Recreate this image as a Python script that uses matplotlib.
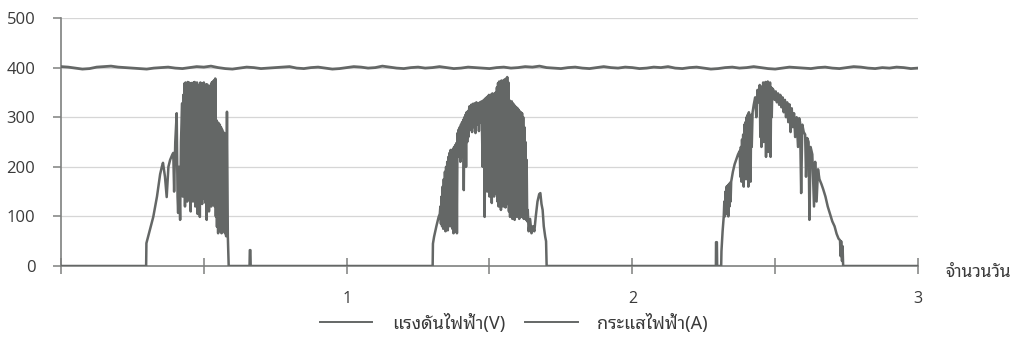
import matplotlib
matplotlib.use("Agg")
import matplotlib.pyplot as plt
from matplotlib import font_manager

# ---------------- data ----------------
volt_x = [i / 40 for i in range(121)]
volt_y = [402, 401, 399, 397, 398, 401, 402, 403, 401, 400,
          399, 398, 397, 399, 400, 401, 399, 398, 400, 402,
          401, 403, 400, 398, 397, 399, 401, 400, 398, 399,
          400, 401, 402, 399, 398, 400, 401, 399, 397, 398,
          400, 402, 401, 399, 400, 403, 401, 399, 398, 400,
          401, 399, 400, 402, 400, 398, 399, 401, 400, 399,
          398, 400, 401, 399, 400, 402, 401, 403, 400, 399,
          398, 400, 401, 399, 398, 400, 402, 400, 399, 401,
          400, 398, 399, 401, 400, 402, 399, 398, 400, 401,
          399, 397, 398, 400, 401, 399, 400, 402, 400, 398,
          397, 399, 401, 400, 399, 398, 400, 401, 399, 398,
          400, 402, 401, 399, 398, 400, 399, 401, 400, 398, 399]

# current: (day, value) pairs
day1_pts = [(0.000, 0), (0.298, 0), (0.299, 46), (0.312, 75), (0.323, 99), (0.336, 140),
            (0.347, 185), (0.353, 200), (0.357, 208), (0.364, 180), (0.370, 139),
            (0.376, 200), (0.382, 214), (0.390, 225), (0.393, 228), (0.396, 150),
            (0.400, 250), (0.405, 308), (0.408, 140), (0.410, 107), (0.413, 200),
            (0.417, 93), (0.420, 250), (0.424, 328),
            (0.426, 140), (0.428, 345), (0.430, 150), (0.432, 368), (0.434, 120),
            (0.436, 370), (0.438, 160), (0.440, 368), (0.442, 130), (0.444, 371),
            (0.446, 150), (0.448, 370), (0.450, 139), (0.452, 365), (0.454, 110),
            (0.456, 369), (0.458, 150), (0.460, 368), (0.462, 130), (0.464, 370),
            (0.466, 160), (0.468, 371), (0.470, 120), (0.472, 366), (0.474, 145),
            (0.476, 370), (0.478, 105), (0.480, 365), (0.482, 140), (0.484, 365),
            (0.486, 99), (0.488, 370), (0.490, 150), (0.492, 362), (0.494, 125),
            (0.496, 368), (0.498, 140), (0.500, 370), (0.502, 135), (0.504, 365),
            (0.506, 127), (0.508, 366), (0.510, 93), (0.512, 366), (0.514, 145),
            (0.516, 362), (0.518, 110), (0.520, 360), (0.522, 140), (0.524, 365),
            (0.526, 120), (0.528, 370), (0.530, 130), (0.532, 372), (0.534, 140),
            (0.536, 375), (0.538, 120), (0.540, 378),
            (0.542, 100), (0.544, 294), (0.546, 79), (0.548, 290), (0.550, 66),
            (0.552, 288), (0.554, 75), (0.556, 285), (0.558, 70), (0.560, 280),
            (0.562, 66), (0.564, 275), (0.566, 79), (0.568, 270), (0.570, 70),
            (0.572, 268), (0.574, 66), (0.576, 200), (0.578, 60), (0.581, 311),
            (0.584, 60), (0.587, 0),
            (0.660, 0), (0.661, 32), (0.663, 32), (0.664, 0)]

day2_pts = [(1.300, 0), (1.301, 0), (1.302, 45), (1.306, 59), (1.314, 80), (1.322, 99),
            (1.326, 105),
            (1.328, 120), (1.330, 85), (1.332, 140), (1.334, 80), (1.336, 160),
            (1.338, 75), (1.340, 175), (1.342, 90), (1.344, 190), (1.346, 70),
            (1.348, 200), (1.350, 85), (1.352, 210), (1.354, 72), (1.356, 220),
            (1.358, 95), (1.360, 228), (1.362, 80), (1.364, 234), (1.366, 100),
            (1.368, 230), (1.370, 75), (1.372, 236), (1.374, 66), (1.376, 240),
            (1.378, 90), (1.380, 244), (1.382, 70), (1.384, 248), (1.386, 66),
            (1.388, 268), (1.390, 220), (1.392, 275), (1.394, 230), (1.396, 280),
            (1.398, 210), (1.400, 285), (1.402, 235), (1.404, 290), (1.406, 220),
            (1.408, 295), (1.410, 153), (1.412, 300), (1.414, 240), (1.416, 305),
            (1.418, 200), (1.420, 310), (1.422, 250), (1.424, 312), (1.426, 260),
            (1.428, 314),
            (1.430, 322), (1.433, 275), (1.436, 325), (1.439, 270), (1.442, 327),
            (1.445, 280), (1.448, 328), (1.451, 268), (1.454, 330), (1.457, 285),
            (1.460, 328), (1.463, 272), (1.466, 330), (1.469, 290), (1.472, 332),
            (1.476, 200), (1.480, 335), (1.483, 99), (1.486, 338),
            (1.488, 180), (1.490, 340), (1.492, 150), (1.494, 342), (1.496, 190),
            (1.498, 345), (1.500, 140), (1.502, 344), (1.504, 170), (1.506, 346),
            (1.508, 127), (1.510, 348), (1.512, 160), (1.514, 345), (1.516, 140),
            (1.518, 348), (1.520, 180), (1.522, 350), (1.524, 145), (1.526, 360),
            (1.528, 130), (1.530, 369), (1.532, 120), (1.534, 372), (1.536, 140),
            (1.538, 370), (1.540, 113), (1.542, 374), (1.544, 135), (1.546, 372),
            (1.548, 120), (1.550, 375), (1.552, 140), (1.554, 376), (1.556, 118),
            (1.558, 378), (1.560, 130), (1.562, 381), (1.564, 125), (1.566, 370),
            (1.568, 110), (1.570, 334), (1.572, 99), (1.574, 330), (1.576, 130),
            (1.578, 332), (1.580, 95), (1.582, 328), (1.584, 120), (1.586, 325),
            (1.588, 93), (1.590, 322), (1.592, 140), (1.594, 320), (1.596, 99),
            (1.598, 318), (1.600, 110), (1.602, 315), (1.604, 95), (1.606, 312),
            (1.608, 130), (1.610, 310), (1.612, 99), (1.614, 308), (1.616, 120),
            (1.618, 300), (1.620, 95), (1.622, 280), (1.624, 110), (1.626, 250),
            (1.628, 93), (1.630, 214), (1.632, 90), (1.634, 113),
            (1.637, 70), (1.642, 95), (1.647, 66), (1.652, 80), (1.657, 70),
            (1.662, 100), (1.668, 130), (1.674, 145), (1.678, 147), (1.682, 125),
            (1.686, 113), (1.690, 80), (1.695, 59), (1.698, 50), (1.700, 0)]

day3_pts = [(2.290, 0), (2.2925, 0), (2.293, 48), (2.296, 48), (2.297, 0), (2.311, 0),
            (2.312, 30), (2.316, 70), (2.320, 100), (2.322, 130), (2.324, 100),
            (2.326, 150), (2.328, 105), (2.330, 160), (2.332, 110), (2.334, 162),
            (2.336, 100), (2.338, 165), (2.340, 120), (2.342, 168), (2.344, 130),
            (2.346, 170), (2.352, 190), (2.358, 205), (2.364, 215), (2.370, 225),
            (2.376, 232), (2.378, 180), (2.380, 240), (2.382, 170), (2.384, 255),
            (2.386, 190), (2.388, 265), (2.390, 160), (2.392, 285), (2.394, 200),
            (2.396, 290), (2.398, 175), (2.400, 300), (2.402, 220), (2.404, 305),
            (2.406, 160), (2.408, 310), (2.410, 200), (2.412, 300), (2.414, 170),
            (2.416, 305), (2.418, 240), (2.421, 310), (2.425, 325), (2.430, 340),
            (2.434, 300), (2.438, 355), (2.442, 330), (2.446, 365), (2.448, 260),
            (2.450, 360), (2.452, 240), (2.454, 362), (2.456, 300), (2.458, 370),
            (2.460, 250), (2.462, 365), (2.464, 300), (2.466, 371), (2.468, 220),
            (2.470, 368), (2.472, 280), (2.474, 372), (2.476, 230), (2.478, 365),
            (2.480, 300), (2.482, 370), (2.484, 220), (2.486, 360), (2.488, 300),
            (2.490, 358), (2.494, 355), (2.498, 335), (2.502, 352), (2.506, 330),
            (2.510, 348), (2.514, 325), (2.518, 345), (2.522, 320), (2.526, 340),
            (2.530, 310), (2.534, 335), (2.538, 300), (2.542, 330), (2.546, 290),
            (2.550, 326), (2.554, 270), (2.558, 318), (2.562, 280), (2.566, 308),
            (2.570, 260), (2.575, 300), (2.580, 240), (2.584, 298), (2.587, 290),
            (2.591, 147), (2.595, 285), (2.600, 270), (2.605, 265), (2.608, 180),
            (2.612, 258), (2.617, 250), (2.620, 93), (2.624, 240), (2.630, 225),
            (2.636, 120), (2.640, 210), (2.645, 130), (2.650, 195), (2.655, 175),
            (2.662, 165), (2.668, 155), (2.676, 140), (2.684, 120), (2.692, 105),
            (2.700, 90), (2.708, 80), (2.715, 65), (2.722, 55), (2.727, 52),
            (2.729, 20), (2.731, 50), (2.734, 10), (2.736, 40), (2.738, 0),
            (3.000, 0)]

x_ticks = [0, 0.5, 1, 1.5, 2, 2.5, 3]
x_tick_labels = ["", "", "1", "", "2", "", "3"]
y_ticks = [0, 100, 200, 300, 400, 500]
series_names = ["แรงดันไฟฟ้า(V)", "กระแสไฟฟ้า(A)"]
x_label = "จำนวนวัน"

# ---------------- fonts ----------------
avail = set(f.name for f in font_manager.fontManager.ttflist)
thai_pref = ["Noto Sans Thai Looped", "Noto Sans Thai", "IBM Plex Sans Thai Looped",
             "Sarabun", "IBM Plex Sans Thai", "FreeSerif"]
thai_fams = [f for f in thai_pref if f in avail][:1]
thai_family = thai_fams + ["DejaVu Sans"]
num_family = ["Open Sans", "DejaVu Sans"] if "Open Sans" in avail else ["DejaVu Sans"]

# ---------------- plot ----------------
line_color = "#646766"
grid_color = "#d6d6d6"
axis_color = "#7e807f"
text_color = "#3a3a3a"

fig = plt.figure(figsize=(10.26, 3.52), dpi=100)
ax = fig.add_axes([61 / 1026, 1 - 266 / 352, (918 - 61) / 1026, (266 - 18) / 352])

for y in y_ticks[1:]:
    ax.axhline(y, color=grid_color, lw=0.9, zorder=0)

ax.plot(volt_x, volt_y, color=line_color, lw=2.0, label=series_names[0], zorder=3)
cur_pts = day1_pts + day2_pts + day3_pts
cur_x = [p[0] for p in cur_pts]
cur_y = [p[1] for p in cur_pts]
ax.plot(cur_x, cur_y, color=line_color, lw=1.8, label=series_names[1], zorder=3)

ax.set_xlim(0, 3.0)
ax.set_ylim(0, 500)
ax.set_xticks(x_ticks)
ax.set_xticklabels(x_tick_labels)
ax.set_yticks(y_ticks)

for s in ["top", "right"]:
    ax.spines[s].set_visible(False)
for s in ["left", "bottom"]:
    ax.spines[s].set_color(axis_color)
    ax.spines[s].set_linewidth(1.2)

ax.tick_params(axis="x", direction="inout", length=12, width=1.1, color=axis_color,
               pad=12, labelsize=11.5, labelcolor=text_color)
ax.tick_params(axis="y", direction="out", length=6, width=1.1, color=axis_color,
               pad=12.5, labelsize=12, labelcolor=text_color)
for lab in ax.get_xticklabels() + ax.get_yticklabels():
    lab.set_family(num_family)

fig.text(945 / 1026, 1 - 272 / 352, x_label, family=thai_family, fontsize=12.5,
         color=text_color, ha="left", va="center")

leg = fig.legend(loc="center", bbox_to_anchor=(0.501, 1 - 323 / 352), ncol=2,
                 frameon=False, handlelength=2.9, handletextpad=1.1, columnspacing=1.1,
                 prop={"family": thai_family, "size": 13})
for t in leg.get_texts():
    t.set_color(text_color)
for h in leg.get_lines():
    h.set_linewidth(1.4)

fig.savefig("out.png", dpi=100)
